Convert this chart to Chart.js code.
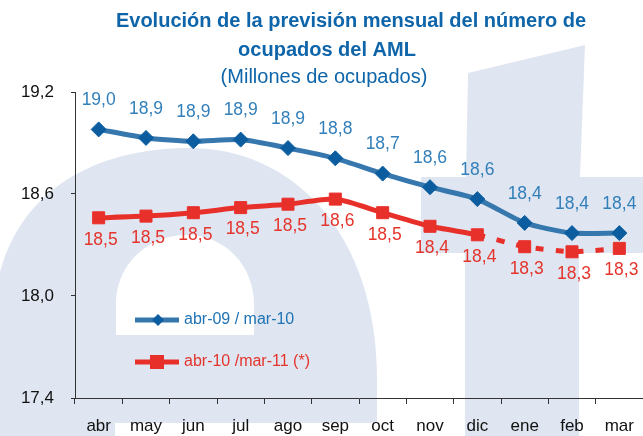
<!DOCTYPE html>
<html>
<head>
<meta charset="utf-8">
<script src="https://cdn.jsdelivr.net/npm/chart.js@4.4.1/dist/chart.umd.min.js"></script>
<style>
  html, body { margin: 0; padding: 0; background: #fff; overflow: hidden; }
  #wrap { width: 643px; height: 436px; position: relative; }
  canvas { display: block; }
</style>
</head>
<body>
<div id="wrap"><canvas id="ocupados"></canvas></div>
<script>
const months = ['abr', 'may', 'jun', 'jul', 'ago', 'sep', 'oct', 'nov', 'dic', 'ene', 'feb', 'mar'];
const serie0910 = [18.98, 18.93, 18.91, 18.92, 18.87, 18.81, 18.72, 18.64, 18.57, 18.43, 18.37, 18.37];
const serie1011 = [18.46, 18.47, 18.49, 18.52, 18.54, 18.57, 18.49, 18.41, 18.36, 18.29, 18.26, 18.28];
const seriesNames = ['abr-09 / mar-10', 'abr-10 /mar-11 (*)'];
const yTicks = [17.4, 18.0, 18.6, 19.2];
const titleLines = ['Evolución de la previsión mensual del número de', 'ocupados del AML'];
const subtitleText = '(Millones de ocupados)';

const FONT = '"Liberation Sans", Arial, sans-serif';
const fmt = v => v.toFixed(1).replace('.', ',');

// light "at" logo behind the chart
const watermark = {
    id: 'watermark',
    beforeDraw(chart) {
        const ctx = chart.ctx;
        ctx.save();
        ctx.fillStyle = '#fff';
        ctx.fillRect(0, 0, chart.width, chart.height);
        ctx.fillStyle = '#dfe6f1';
        // "a"
        ctx.beginPath();
        ctx.moveTo(0, 272);
        ctx.bezierCurveTo(22, 190, 95, 148, 190, 148);
        ctx.bezierCurveTo(290, 148, 377, 230, 377, 380);
        ctx.lineTo(377, 436);
        ctx.lineTo(0, 436);
        ctx.closePath();
        ctx.fill();
        // "t"
        ctx.beginPath();
        ctx.moveTo(468, 73);
        ctx.lineTo(585, 45);
        ctx.lineTo(580, 177);
        ctx.lineTo(643, 177);
        ctx.lineTo(643, 253);
        ctx.lineTo(579, 253);
        ctx.lineTo(579, 436);
        ctx.lineTo(465, 436);
        ctx.lineTo(465, 253);
        ctx.lineTo(421, 253);
        ctx.lineTo(421, 177);
        ctx.lineTo(466, 177);
        ctx.closePath();
        ctx.fill();
        // holes of the "a"
        ctx.fillStyle = '#fff';
        ctx.beginPath();
        ctx.moveTo(116, 335);
        ctx.lineTo(116, 300);
        ctx.bezierCurveTo(118, 262, 150, 235, 186, 235);
        ctx.bezierCurveTo(225, 235, 254, 265, 254, 305);
        ctx.lineTo(254, 335);
        ctx.closePath();
        ctx.fill();
        ctx.fillRect(115, 423, 262, 13);
        ctx.restore();
    }
};

const titles = {
    id: 'titles',
    afterDraw(chart) {
        const ctx = chart.ctx;
        ctx.save();
        ctx.fillStyle = '#0e65a9';
        ctx.textAlign = 'center';
        ctx.textBaseline = 'middle';
        ctx.font = 'bold 20px ' + FONT;
        ctx.fillText(titleLines[0], 351, 21);
        ctx.fillText(titleLines[1], 327, 50);
        ctx.font = '20px ' + FONT;
        ctx.fillText(subtitleText, 324, 77);
        ctx.restore();
    }
};

const valueLabels = {
    id: 'valueLabels',
    afterDatasetsDraw(chart) {
        const ctx = chart.ctx;
        ctx.save();
        ctx.font = '17.5px ' + FONT;
        ctx.textAlign = 'center';
        ctx.textBaseline = 'middle';
        chart.data.datasets.forEach((ds, i) => {
            const meta = chart.getDatasetMeta(i);
            ctx.fillStyle = i === 0 ? '#327fba' : '#e5342c';
            meta.data.forEach((pt, j) => {
                const dy = i === 0 ? -29 : 22;
                ctx.fillText(fmt(ds.data[j]), pt.x + (i === 0 ? 0 : 2), pt.y + dy);
            });
        });
        ctx.restore();
    }
};

const innerLegend = {
    id: 'innerLegend',
    afterDraw(chart) {
        const ctx = chart.ctx;
        const rows = [
            { y: 320, ds: chart.data.datasets[0] },
            { y: 362, ds: chart.data.datasets[1] }
        ];
        ctx.save();
        ctx.font = '16px ' + FONT;
        ctx.textBaseline = 'middle';
        rows.forEach((r, i) => {
            ctx.strokeStyle = r.ds.borderColor;
            ctx.lineWidth = 5;
            ctx.beginPath();
            ctx.moveTo(135, r.y);
            ctx.lineTo(179, r.y);
            ctx.stroke();
            ctx.fillStyle = r.ds.pointBackgroundColor;
            ctx.beginPath();
            if (i === 0) {
                ctx.moveTo(158, r.y - 6);
                ctx.lineTo(164, r.y);
                ctx.lineTo(158, r.y + 6);
                ctx.lineTo(152, r.y);
                ctx.closePath();
            } else {
                ctx.rect(150, r.y - 7, 14, 14);
            }
            ctx.fill();
            ctx.fillStyle = i === 0 ? '#1f72b3' : '#e5342c';
            ctx.fillText(r.ds.label, 184, r.y);
        });
        ctx.restore();
    }
};

const ctx = document.getElementById('ocupados').getContext('2d');
new Chart(ctx, {
    type: 'line',
    data: {
        labels: months,
        datasets: [{
            label: seriesNames[0],
            data: serie0910,
            borderColor: '#3678ae',
            borderWidth: 5,
            tension: 0.2,
            clip: false,
            pointStyle: 'rectRot',
            pointRadius: 7.5,
            pointBorderWidth: 1,
            pointBackgroundColor: '#0b5d9f',
            pointBorderColor: '#0b5d9f'
        }, {
            label: seriesNames[1],
            data: serie1011,
            borderColor: '#e8302b',
            borderWidth: 5,
            tension: 0.2,
            clip: false,
            pointStyle: 'rect',
            pointRadius: 8.5,
            pointBorderWidth: 1,
            pointBackgroundColor: '#e8302b',
            pointBorderColor: '#e8302b',
            segment: {
                borderDash: c => c.p0DataIndex >= 8 ? [8, 12] : undefined
            }
        }]
    },
    options: {
        responsive: true,
        maintainAspectRatio: false,
        animation: false,
        layout: {
            autoPadding: false,
            padding: { top: 92, left: 0, right: -4, bottom: 0 }
        },
        scales: {
            x: {
                offset: true,
                grid: {
                    offset: true,
                    drawOnChartArea: false,
                    drawTicks: true,
                    tickLength: 6,
                    color: '#333'
                },
                border: { display: true, color: '#333', width: 1 },
                ticks: {
                    color: '#111',
                    font: { family: FONT, size: 17 },
                    padding: 12,
                    maxRotation: 0,
                    autoSkip: false
                },
                afterFit(scale) {
                    scale.height = 38;
                    scale.paddingLeft = 0;
                    scale.paddingRight = 0;
                }
            },
            y: {
                min: 17.4,
                max: 19.2,
                afterBuildTicks(scale) {
                    scale.ticks = yTicks.map(v => ({ value: v }));
                },
                grid: {
                    drawOnChartArea: false,
                    drawTicks: true,
                    tickLength: 4,
                    color: '#333'
                },
                border: { display: true, color: '#333', width: 1 },
                ticks: {
                    color: '#111',
                    font: { family: FONT, size: 17 },
                    padding: 17,
                    callback: v => fmt(v)
                },
                afterFit(scale) { scale.width = 75; }
            }
        },
        plugins: {
            legend: { display: false },
            title: { display: false },
            tooltip: { enabled: false }
        }
    },
    plugins: [watermark, titles, valueLabels, innerLegend]
});
</script>
</body>
</html>
